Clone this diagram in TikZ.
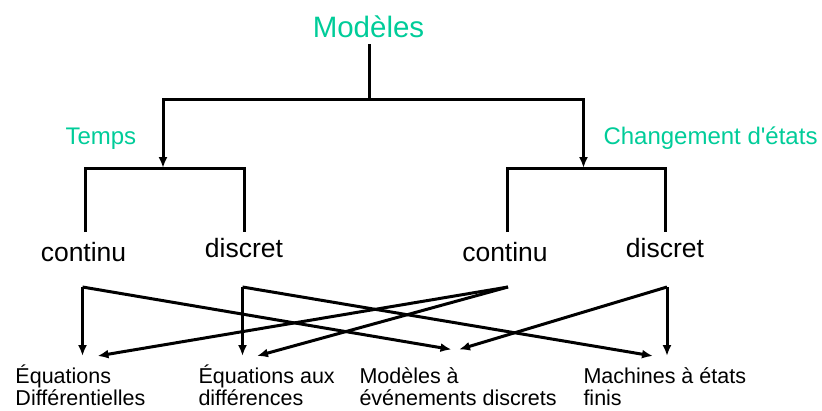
\documentclass[tikz,border=0pt]{standalone}
\usepackage{fontspec}
\setmainfont{Liberation Sans}[Ligatures=TeXOff]
\usepackage{xcolor}
\usepackage{tikz}
\usetikzlibrary{arrows.meta}
\definecolor{vert}{RGB}{0,204,153}

\begin{document}
\begin{tikzpicture}[x=1pt,y=-1pt,line width=3pt,
  fl/.style={-{Latex[length=11pt,width=9pt]}},
  titre/.style={text=vert,inner sep=0pt,font=\fontsize{24}{28}\selectfont},
  choix/.style={inner sep=0pt,font=\fontsize{26.5}{30}\selectfont},
  feuille/.style={inner sep=0pt,align=left,font=\fontsize{21.5}{22}\selectfont}]
\useasboundingbox (0,0) rectangle (822,410);
\node [titre,font=\fontsize{29.5}{32}\selectfont,anchor=base] (mod) at (368.5,37.5) {Modèles};
\node [titre,anchor=base west] (temps) at (64,144.5) {Temps};
\node [titre,anchor=base west] (chg) at (602,144.5) {Changement d'états};
\coordinate (mb) at (369.5,44);
\coordinate (j0) at (369.5,99);
\coordinate (tT) at (163,168);
\coordinate (tC) at (583.5,168);
\draw (mb) -- (j0);
\draw [fl] (j0) -| (tT);
\draw [fl] (j0) -| (tC);
% branches
\coordinate (bcL) at (85.5,232);
\coordinate (bdL) at (244.8,232);
\coordinate (bcR) at (507,232);
\coordinate (bdR) at (665.8,232);
\draw (bcL) |- (tT) -| (bdL);
\draw (bcR) |- (tC) -| (bdR);
\node [choix,anchor=base] (cL) at (83.5,261) {continu};
\node [choix,anchor=base] (dL) at (244,257.5) {discret};
\node [choix,anchor=base] (cR) at (505,261) {continu};
\node [choix,anchor=base] (dR) at (665,257.5) {discret};
% familles
\node [feuille,anchor=base west] (eqd) at (14,405) {Équations\\Différentielles};
\node [feuille,anchor=base west] (eqa) at (197,405) {Équations aux\\différences};
\node [feuille,anchor=base west] (med) at (358,405) {Modèles à\\événements discrets};
\node [feuille,anchor=base west] (mef) at (582,405) {Machines à états\\finis};
\coordinate (scL) at (82.5,287);
\coordinate (sdL) at (242.5,287);
\coordinate (scR) at (508,287);
\coordinate (sdR) at (667,287);
\coordinate (aD1) at (82.5,356);
\coordinate (aD2) at (97.5,356);
\coordinate (aA1) at (242.5,356);
\coordinate (aA2) at (257,356);
\coordinate (aM1) at (451.5,349.5);
\coordinate (aM2) at (459,349.5);
\coordinate (aF1) at (653,356);
\coordinate (aF2) at (667,356);
\draw [fl] (scL) -- (aD1);
\draw [fl] (scL) -- (aM1);
\draw [fl] (sdL) -- (aA1);
\draw [fl] (sdL) -- (aF1);
\draw [fl] (scR) -- (aD2);
\draw [fl] (scR) -- (aA2);
\draw [fl] (sdR) -- (aM2);
\draw [fl] (sdR) -- (aF2);
\end{tikzpicture}
\end{document}
